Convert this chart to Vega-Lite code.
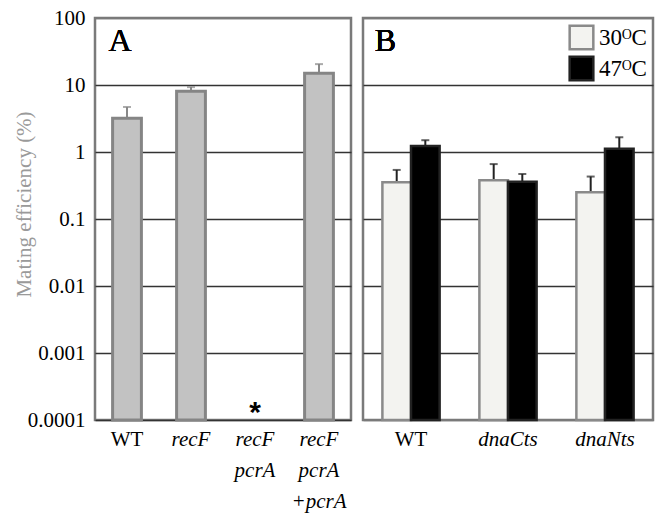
{
  "$schema": "https://vega.github.io/schema/vega-lite/v6.json",
  "background": "white",
  "padding": {"left": 11, "top": 5, "right": 5, "bottom": 5},
  "spacing": 12,
  "bounds": "flush",
  "resolve": {"scale": {"fill": "independent", "stroke": "independent"}, "legend": {"fill": "independent", "stroke": "independent"}},
  "config": {
    "view": {"stroke": "#7a7a7a", "strokeWidth": 2.5},
    "font": "Liberation Serif",
    "style": {"guide-label": {"font": "Liberation Serif"}, "guide-title": {"font": "Liberation Serif"}},
    "axis": {"labelFont": "Liberation Serif", "titleFont": "Liberation Serif", "labelFontSize": 21}
  },
  "hconcat": [
    {
      "width": 256,
      "height": 402,
      "data": {"values": [
        {"strain": "WT", "v": 3.2, "hi": 4.7},
        {"strain": "recF", "v": 8.1, "hi": 9.3},
        {"strain": "recF pcrA", "v": null, "hi": null, "note": "*"},
        {"strain": "recF pcrA +pcrA", "v": 15, "hi": 20.5}
      ]},
      "encoding": {
        "x": {"field": "strain", "type": "nominal", "sort": ["WT", "recF", "recF pcrA", "recF pcrA +pcrA"],
          "scale": {"domain": ["WT", "recF", "recF pcrA", "recF pcrA +pcrA"], "paddingInner": 0.55, "paddingOuter": 0.275},
          "axis": {"title": null, "labelAngle": 0, "labelFont": "Liberation Serif", "labelFontSize": 21, "labelColor": "#000", "ticks": false, "domain": false, "labelPadding": 8, "labelLineHeight": 31, "labelBaseline": "top",
            "labelExpr": "split(datum.label, ' ')",
            "labelFontStyle": {"condition": {"test": "datum.value == 'WT'", "value": "normal"}, "value": "italic"}}}
      },
      "layer": [
        {
          "mark": {"type": "rule", "color": "#888", "strokeWidth": 2},
          "encoding": {
            "y": {"field": "v", "type": "quantitative",
              "scale": {"type": "log", "domain": [0.0001, 100], "nice": false},
              "axis": {"title": "Mating efficiency (%)", "titleColor": "#9a9a9a", "titleFont": "Liberation Serif", "titleFontSize": 21, "titleFontWeight": "normal", "titleX": -71, "titleY": 186, "titleAlign": "center", "titleBaseline": "middle",
                "values": [0.0001, 0.001, 0.01, 0.1, 1, 10, 100], "format": "~g",
                "labelFont": "Liberation Serif", "labelFontSize": 21, "labelColor": "#000", "labelPadding": 10, "ticks": false, "domain": false,
                "grid": true, "gridWidth": 1.5,
                "gridColor": {"condition": {"test": "datum.value >= 100", "value": "#7a7a7a"}, "value": "#333"}}},
            "y2": {"field": "hi"}
          }
        },
        {
          "mark": {"type": "tick", "color": "#888", "thickness": 2, "size": 8, "orient": "horizontal"},
          "encoding": {"y": {"field": "hi", "type": "quantitative"}}
        },
        {
          "mark": {"type": "bar", "fill": "#c2c2c2", "stroke": "#858585", "strokeWidth": 3},
          "encoding": {"y": {"field": "v", "type": "quantitative"}, "y2": {"datum": 0.0001}}
        },
        {
          "transform": [{"filter": "datum.note"}],
          "mark": {"type": "text", "font": "Liberation Sans", "fontWeight": "bold", "fontSize": 30, "baseline": "alphabetic", "dy": 2},
          "encoding": {"text": {"field": "note"}, "y": {"datum": 0.0001}}
        },
        {
          "mark": {"type": "text", "fontSize": 32, "font": "Liberation Serif", "dx": -7, "baseline": "middle"},
          "encoding": {"text": {"value": "A"}, "x": {"datum": "WT"}, "y": {"datum": 45}}
        }
      ]
    },
    {
      "width": 290,
      "height": 402,
      "data": {"values": [
        {"strain": "WT", "temp": "30ᴼC", "v": 0.355, "hi": 0.54},
        {"strain": "WT", "temp": "47ᴼC", "v": 1.23, "hi": 1.5},
        {"strain": "dnaCts", "temp": "30ᴼC", "v": 0.38, "hi": 0.66},
        {"strain": "dnaCts", "temp": "47ᴼC", "v": 0.36, "hi": 0.47},
        {"strain": "dnaNts", "temp": "30ᴼC", "v": 0.25, "hi": 0.43},
        {"strain": "dnaNts", "temp": "47ᴼC", "v": 1.12, "hi": 1.66}
      ]},
      "encoding": {
        "x": {"field": "strain", "type": "nominal", "sort": ["WT", "dnaCts", "dnaNts"],
          "scale": {"paddingInner": 0.41, "paddingOuter": 0.2},
          "axis": {"title": null, "labelAngle": 0, "labelFont": "Liberation Serif", "labelFontSize": 21, "labelColor": "#000", "ticks": false, "domain": false, "labelPadding": 8, "labelBaseline": "top",
            "labelFontStyle": {"condition": {"test": "datum.value == 'WT'", "value": "normal"}, "value": "italic"}}},
        "xOffset": {"field": "temp", "type": "nominal", "scale": {"paddingInner": 0, "paddingOuter": 0}}
      },
      "layer": [
        {
          "mark": {"type": "rule", "color": "#222", "strokeWidth": 2},
          "encoding": {
            "y": {"field": "v", "type": "quantitative",
              "scale": {"type": "log", "domain": [0.0001, 100], "nice": false},
              "axis": {"title": null, "labels": false, "ticks": false, "domain": false,
                "values": [0.0001, 0.001, 0.01, 0.1, 1, 10, 100],
                "grid": true, "gridWidth": 1.5,
                "gridColor": {"condition": {"test": "datum.value >= 100 || datum.value <= 0.0001", "value": "#7a7a7a"}, "value": "#333"}}},
            "y2": {"field": "hi"}
          }
        },
        {
          "mark": {"type": "tick", "color": "#222", "thickness": 2, "size": 8, "orient": "horizontal"},
          "encoding": {"y": {"field": "hi", "type": "quantitative"}}
        },
        {
          "mark": {"type": "bar", "strokeWidth": 2.5},
          "encoding": {
            "y": {"field": "v", "type": "quantitative"},
            "y2": {"datum": 0.0001},
            "fill": {"field": "temp", "type": "nominal",
              "scale": {"domain": ["30ᴼC", "47ᴼC"], "range": ["#f3f3f0", "#000000"]},
              "legend": {"title": null, "orient": "top-right", "offset": 6, "symbolType": "square", "symbolSize": 560, "symbolStrokeColor": "#000", "symbolStrokeWidth": 2.5, "labelFont": "Liberation Serif", "labelFontSize": 23, "labelColor": "#000", "rowPadding": -5, "labelOffset": 4, "padding": 0}},
            "stroke": {"field": "temp", "type": "nominal",
              "scale": {"domain": ["30ᴼC", "47ᴼC"], "range": ["#8a8a8a", "#222222"]}, "legend": null}
          }
        },
        {
          "mark": {"type": "text", "fontSize": 32, "font": "Liberation Serif", "dx": 3, "baseline": "middle"},
          "encoding": {"text": {"value": "B"}, "x": {"datum": "WT"}, "xOffset": {"value": 0}, "y": {"datum": 45}}
        }
      ]
    }
  ]
}
